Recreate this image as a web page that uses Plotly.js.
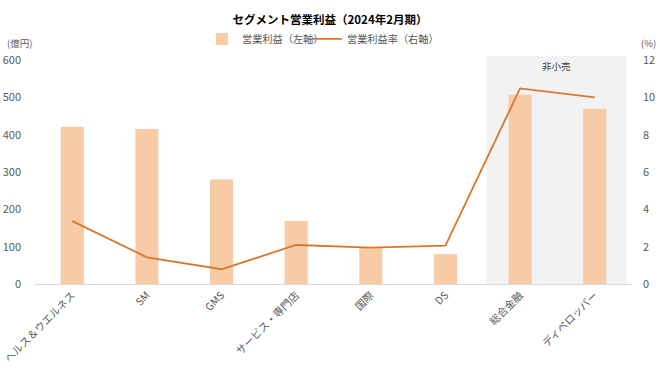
<!DOCTYPE html>
<html>
<head>
<meta charset="utf-8">
<script src="https://cdn.plot.ly/plotly-3.0.1.min.js"></script>
<style>html,body{margin:0;padding:0;background:#fff;}#chart{width:660px;height:371px;}</style>
</head>
<body>
<div id="chart"></div>
<script>
const categories = ["ヘルス＆ウエルネス", "SM", "GMS", "サービス・専門店", "国際", "DS", "総合金融", "ディベロッパー"];
const operatingProfit = [421, 415, 280, 169, 97, 80, 507, 469];
const profitMargin = [3.37, 1.43, 0.79, 2.09, 1.95, 2.05, 10.48, 10.0];
const leftTicks = [0, 100, 200, 300, 400, 500, 600];
const rightTicks = [0, 2, 4, 6, 8, 10, 12];

const FONT = '"Noto Sans CJK JP", "Noto Sans", sans-serif';
const TICKCOL = '#595959';

const traces = [
  {
    type: 'bar', name: '営業利益（左軸）', x: categories, y: operatingProfit,
    marker: {color: '#F8CBA7'}, width: 0.31, yaxis: 'y', legend: 'legend'
  },
  {
    type: 'scatter', mode: 'lines', name: '営業利益率（右軸）', x: categories, y: profitMargin,
    line: {color: '#D9782D', width: 1.8}, yaxis: 'y2', legend: 'legend2'
  }
];

const legendCommon = {orientation: 'h', xanchor: 'left', y: 1.075, yanchor: 'middle',
  font: {family: FONT, size: 10.2, color: TICKCOL}, itemwidth: 30, bgcolor: 'rgba(0,0,0,0)'};

const layout = {
  width: 660, height: 371,
  margin: {l: 35, r: 28, t: 56, b: 87},
  paper_bgcolor: '#ffffff', plot_bgcolor: 'rgba(0,0,0,0)',
  font: {family: FONT, size: 11, color: TICKCOL},
  title: {text: '<b>セグメント営業利益（2024年2月期）</b>', x: 0.5, xanchor: 'center', y: 0.945, yanchor: 'middle',
          font: {family: FONT, size: 11.5, color: '#000000'}},
  showlegend: true,
  legend: Object.assign({}, legendCommon, {x: 0.2797}),
  legend2: Object.assign({}, legendCommon, {x: 0.4556}),
  xaxis: {
    type: 'category', tickangle: -45, showgrid: false, zeroline: false,
    showline: true, linecolor: '#D9D9D9', linewidth: 1, ticks: '',
    tickfont: {family: FONT, size: 10.5, color: TICKCOL}, range: [-0.5, 7.5]
  },
  yaxis: {
    range: [0, 610.7], tickvals: leftTicks, showgrid: false, zeroline: false, showline: false,
    ticks: '', tickfont: {family: FONT, size: 11, color: TICKCOL}, ticklabelstandoff: 13
  },
  yaxis2: {
    range: [0, 12.214], tickvals: rightTicks, overlaying: 'y', side: 'right', showgrid: false,
    zeroline: false, showline: false, ticks: '', tickfont: {family: FONT, size: 11, color: TICKCOL},
    ticklabelstandoff: 10
  },
  bargap: 0.69,
  shapes: [
    {type: 'rect', xref: 'x', yref: 'paper', x0: 5.55, x1: 7.43, y0: 0, y1: 1,
     fillcolor: '#F2F2F2', line: {width: 0}, layer: 'below'}
  ],
  annotations: [
    {text: '(億円)', xref: 'paper', yref: 'paper', x: -0.05, y: 1.055, xanchor: 'left', yanchor: 'middle',
     showarrow: false, font: {family: FONT, size: 9.5, color: TICKCOL}},
    {text: '(%)', xref: 'paper', yref: 'paper', x: 1.043, y: 1.055, xanchor: 'right', yanchor: 'middle',
     showarrow: false, font: {family: FONT, size: 9.5, color: TICKCOL}},
    {text: '非小売', xref: 'x', yref: 'paper', x: 6.49, y: 0.955, xanchor: 'center', yanchor: 'middle',
     showarrow: false, font: {family: FONT, size: 9.5, color: '#404040'}}
  ]
};

Plotly.newPlot('chart', traces, layout, {displayModeBar: false, staticPlot: true});
</script>
</body>
</html>
